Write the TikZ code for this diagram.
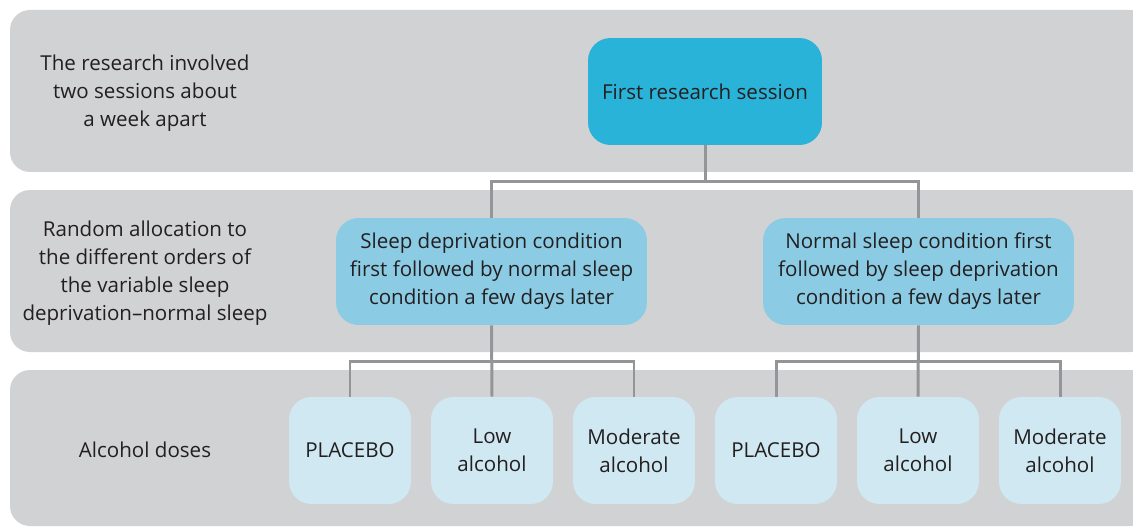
\documentclass[tikz,border=0pt]{standalone}
\usepackage{fontspec}
\setmainfont{Open Sans}
\usetikzlibrary{positioning}

\definecolor{bandgray}{HTML}{D1D2D4}
\definecolor{sessionblue}{HTML}{2AB3D8}
\definecolor{orderblue}{HTML}{8BCCE4}
\definecolor{doseblue}{HTML}{D0E8F1}
\definecolor{linkgray}{HTML}{939598}
\definecolor{inkdark}{HTML}{231F20}

\begin{document}
\begin{tikzpicture}[x=0.02cm,y=-0.02cm,
  every node/.style={font=\fontsize{11.7}{15.9}\selectfont,text=inkdark,align=center},
  band/.style={fill=bandgray,rounded corners=0.4cm},
  box/.style={rounded corners=0.45cm,minimum height=2.14cm,inner sep=0pt},
  session/.style={box,fill=sessionblue,minimum width=4.68cm},
  order/.style={box,fill=orderblue,minimum width=6.22cm},
  dose/.style={box,fill=doseblue,minimum width=2.44cm},
  link/.style={draw=linkgray,line width=1.7pt}]
\useasboundingbox (0,0) rectangle (1133,527);

% grey bands behind each level
\fill[band] (10,10) rectangle (1150,172);
\fill[band] (10,190) rectangle (1150,352);
\fill[band] (10,370) rectangle (1150,526);

\node (lvlA) at (145,93) {The research involved\\two sessions about\\a week apart};
\node (lvlB) at (145,273) {Random allocation to\\the different orders of\\the variable sleep\\deprivation--normal sleep};
\node (lvlC) at (145,450) {Alcohol doses};

\node[session] (first) at (705,91.5) {First research session};

\node[order] (sdfirst) at (491.5,271.5) {Sleep deprivation condition\\first followed by normal sleep\\condition a few days later};
\node[order] (nsfirst) at (918.5,271.5) {Normal sleep condition first\\followed by sleep deprivation\\condition a few days later};

\node[dose] (sdP) at (350,450.5) {PLACEBO};
\node[dose] (sdL) at (492,450.5) {Low\\alcohol};
\node[dose] (sdM) at (634,450.5) {Moderate\\alcohol};
\node[dose] (nsP) at (776,450.5) {PLACEBO};
\node[dose] (nsL) at (918,450.5) {Low\\alcohol};
\node[dose] (nsM) at (1060,450.5) {Moderate\\alcohol};

% branch points in the white gaps
\coordinate (jA) at (705,181.5);
\coordinate (jB) at (491.5,361.5);
\coordinate (jC) at (918.5,361.5);

\draw[link] (first.south) -- (jA) -| (sdfirst.north);
\draw[link] (jA) -| (nsfirst.north);

\draw[link] (sdfirst.south) -- (sdL.north);
\draw[link] (jB) -| (sdP.north);
\draw[link] (jB) -| (sdM.north);

\draw[link] (nsfirst.south) -- (nsL.north);
\draw[link] (jC) -| (nsP.north);
\draw[link] (jC) -| (nsM.north);
\end{tikzpicture}
\end{document}
